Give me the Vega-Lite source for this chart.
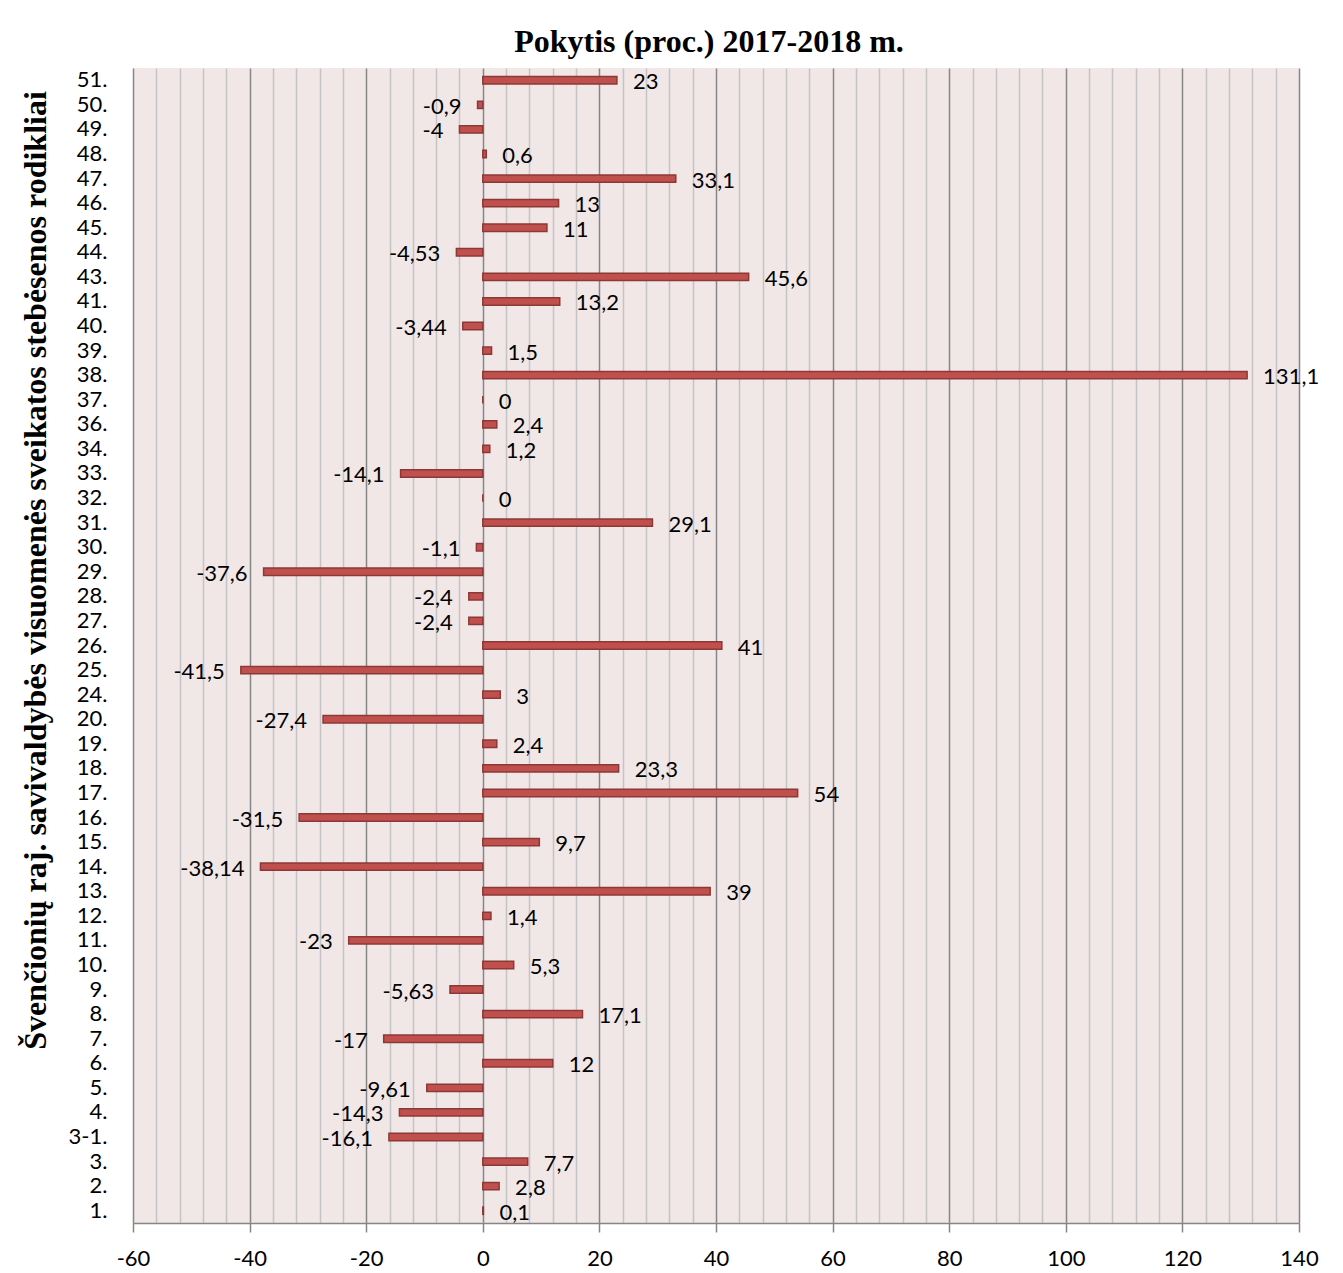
{
  "$schema": "https://vega.github.io/schema/vega-lite/v6.json",
  "autosize": "none",
  "padding": {"left": 133, "top": 68, "right": 44, "bottom": 50},
  "width": 1166,
  "height": 1155,
  "background": "white",
  "title": {
    "text": "Pokytis (proc.) 2017-2018 m.",
    "font": "Liberation Serif",
    "fontSize": 32,
    "fontWeight": "bold",
    "color": "black",
    "anchor": "middle",
    "frame": "group",
    "baseline": "alphabetic",
    "offset": 16,
    "dx": -7,
    "dy": 32
  },
  "config": {
    "view": {"stroke": null, "fill": "#F2E7E7"},
    "axis": {"labelFont": "Lato", "labelFontSize": 22, "labelColor": "black"}
  },
  "data": {
    "values": [
      {"rodiklis": "51.", "pokytis": 23, "label": "23"},
      {"rodiklis": "50.", "pokytis": -0.9, "label": "-0,9"},
      {"rodiklis": "49.", "pokytis": -4, "label": "-4"},
      {"rodiklis": "48.", "pokytis": 0.6, "label": "0,6"},
      {"rodiklis": "47.", "pokytis": 33.1, "label": "33,1"},
      {"rodiklis": "46.", "pokytis": 13, "label": "13"},
      {"rodiklis": "45.", "pokytis": 11, "label": "11"},
      {"rodiklis": "44.", "pokytis": -4.53, "label": "-4,53"},
      {"rodiklis": "43.", "pokytis": 45.6, "label": "45,6"},
      {"rodiklis": "41.", "pokytis": 13.2, "label": "13,2"},
      {"rodiklis": "40.", "pokytis": -3.44, "label": "-3,44"},
      {"rodiklis": "39.", "pokytis": 1.5, "label": "1,5"},
      {"rodiklis": "38.", "pokytis": 131.1, "label": "131,1"},
      {"rodiklis": "37.", "pokytis": 0, "label": "0"},
      {"rodiklis": "36.", "pokytis": 2.4, "label": "2,4"},
      {"rodiklis": "34.", "pokytis": 1.2, "label": "1,2"},
      {"rodiklis": "33.", "pokytis": -14.1, "label": "-14,1"},
      {"rodiklis": "32.", "pokytis": 0, "label": "0"},
      {"rodiklis": "31.", "pokytis": 29.1, "label": "29,1"},
      {"rodiklis": "30.", "pokytis": -1.1, "label": "-1,1"},
      {"rodiklis": "29.", "pokytis": -37.6, "label": "-37,6"},
      {"rodiklis": "28.", "pokytis": -2.4, "label": "-2,4"},
      {"rodiklis": "27.", "pokytis": -2.4, "label": "-2,4"},
      {"rodiklis": "26.", "pokytis": 41, "label": "41"},
      {"rodiklis": "25.", "pokytis": -41.5, "label": "-41,5"},
      {"rodiklis": "24.", "pokytis": 3, "label": "3"},
      {"rodiklis": "20.", "pokytis": -27.4, "label": "-27,4"},
      {"rodiklis": "19.", "pokytis": 2.4, "label": "2,4"},
      {"rodiklis": "18.", "pokytis": 23.3, "label": "23,3"},
      {"rodiklis": "17.", "pokytis": 54, "label": "54"},
      {"rodiklis": "16.", "pokytis": -31.5, "label": "-31,5"},
      {"rodiklis": "15.", "pokytis": 9.7, "label": "9,7"},
      {"rodiklis": "14.", "pokytis": -38.14, "label": "-38,14"},
      {"rodiklis": "13.", "pokytis": 39, "label": "39"},
      {"rodiklis": "12.", "pokytis": 1.4, "label": "1,4"},
      {"rodiklis": "11.", "pokytis": -23, "label": "-23"},
      {"rodiklis": "10.", "pokytis": 5.3, "label": "5,3"},
      {"rodiklis": "9.", "pokytis": -5.63, "label": "-5,63"},
      {"rodiklis": "8.", "pokytis": 17.1, "label": "17,1"},
      {"rodiklis": "7.", "pokytis": -17, "label": "-17"},
      {"rodiklis": "6.", "pokytis": 12, "label": "12"},
      {"rodiklis": "5.", "pokytis": -9.61, "label": "-9,61"},
      {"rodiklis": "4.", "pokytis": -14.3, "label": "-14,3"},
      {"rodiklis": "3-1.", "pokytis": -16.1, "label": "-16,1"},
      {"rodiklis": "3.", "pokytis": 7.7, "label": "7,7"},
      {"rodiklis": "2.", "pokytis": 2.8, "label": "2,8"},
      {"rodiklis": "1.", "pokytis": 0.1, "label": "0,1"}
    ]
  },
  "encoding": {
    "y": {
      "field": "rodiklis",
      "type": "nominal",
      "sort": null,
      "scale": {"paddingInner": 0.7, "paddingOuter": 0.35},
      "axis": {
        "title": "Švenčionių raj. savivaldybės visuomenės sveikatos stebėsenos rodikliai",
        "titleFont": "Liberation Serif",
        "titleFontSize": 32,
        "titleFontWeight": "bold",
        "titleColor": "black",
        "titleAngle": -90,
        "titleAlign": "center",
        "titleBaseline": "alphabetic",
        "titleAnchor": null,
        "titleX": -88,
        "titleY": 502,
        "ticks": false,
        "domain": false,
        "grid": false,
        "labelPadding": 26,
        "labelBaseline": "middle"
      }
    }
  },
  "layer": [
    {
      "mark": {"type": "bar", "fill": "#C0504D", "stroke": "#8C3836", "strokeWidth": 1.5},
      "encoding": {
        "x": {
          "field": "pokytis",
          "type": "quantitative",
          "scale": {"domain": [-60, 140], "nice": false, "zero": false},
          "axis": {
            "title": null,
            "values": [-60, -40, -20, 0, 20, 40, 60, 80, 100, 120, 140],
            "labelExpr": "'' + datum.value",
            "grid": true,
            "gridColor": "#868686",
            "gridWidth": 1.5,
            "domainColor": "#868686",
            "domainWidth": 1.5,
            "tickColor": "#868686",
            "tickWidth": 1.5,
            "tickSize": 9,
            "labelPadding": 16,
            "labelFlush": false
          }
        }
      }
    },
    {
      "transform": [{"filter": "datum.pokytis >= 0"}],
      "mark": {"type": "text", "align": "left", "baseline": "middle", "dx": 16, "dy": 2, "font": "Lato", "fontSize": 22, "color": "black"},
      "encoding": {
        "x": {
          "field": "pokytis",
          "type": "quantitative",
          "axis": {
            "orient": "top",
            "title": null,
            "values": [-56, -52, -48, -44, -36, -32, -28, -24, -16, -12, -8, -4, 4, 8, 12, 16, 24, 28, 32, 36, 44, 48, 52, 56, 64, 68, 72, 76, 84, 88, 92, 96, 104, 108, 112, 116, 124, 128, 132, 136],
            "grid": true,
            "gridColor": "#C4C4C4",
            "gridWidth": 1.5,
            "labels": false,
            "ticks": false,
            "domain": false,
            "minExtent": 0,
            "maxExtent": 0,
            "zindex": 0
          }
        },
        "text": {"field": "label"}
      }
    },
    {
      "transform": [{"filter": "datum.pokytis < 0"}],
      "mark": {"type": "text", "align": "right", "baseline": "middle", "dx": -16, "dy": 2, "font": "Lato", "fontSize": 22, "color": "black"},
      "encoding": {
        "x": {"field": "pokytis", "type": "quantitative", "axis": null},
        "text": {"field": "label"}
      }
    }
  ],
  "resolve": {"axis": {"x": "independent"}}
}
